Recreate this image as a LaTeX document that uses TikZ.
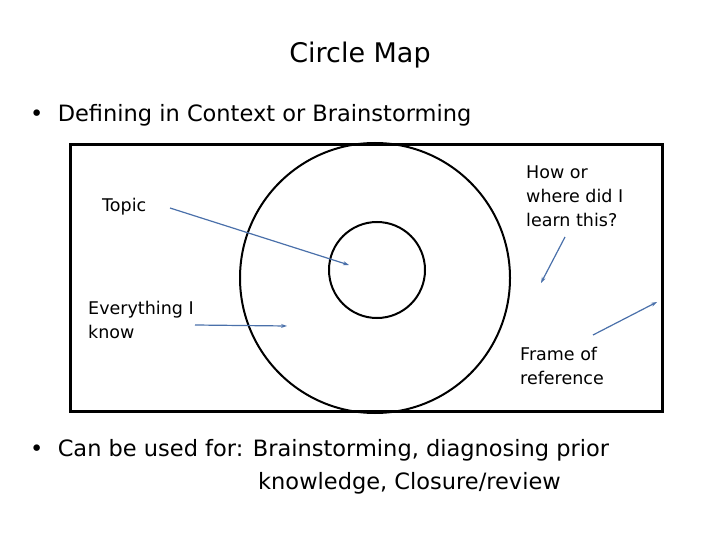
\documentclass[tikz,border=0pt]{standalone}
\usepackage{fontspec}
\setmainfont{DejaVu Sans}
\usetikzlibrary{arrows.meta}
\definecolor{arr}{RGB}{74,112,170}
\begin{document}
\begin{tikzpicture}[x=1pt,y=-1pt,
  lab/.style={anchor=west,font=\fontsize{17.5}{24}\selectfont,align=left,inner sep=0},
  big/.style={anchor=west,font=\fontsize{22.5}{32}\selectfont,inner sep=0},
  ar/.style={draw=arr,line width=1.2pt,-{Stealth[length=6pt,width=4pt]}}]
\useasboundingbox (0,0) rectangle (720,540);
\node[font=\fontsize{27}{30}\selectfont] (title) at (360,55) {Circle Map};
\node[big] (b1) at (30,115) {•\ \ Defining in Context or Brainstorming};
\draw[line width=3pt] (70,145) rectangle (662,411);
\draw[line width=2pt] (375,278) circle (135);
\draw[line width=2pt] (377,270) circle (48);
\node[lab] (topic) at (102,207) {Topic};
\coordinate (t1) at (170,208); \coordinate (t2) at (349,265);
\draw[ar] (t1) -- (t2);
\node[lab] (every) at (88,320) {Everything I\\know};
\coordinate (e1) at (195,325); \coordinate (e2) at (287,326);
\draw[ar] (e1) -- (e2);
\node[lab] (how) at (526,196) {How or\\where did I\\learn this?};
\coordinate (h1) at (565,237); \coordinate (h2) at (541,283);
\draw[ar] (h1) -- (h2);
\coordinate (f1) at (593,335); \coordinate (f2) at (657,302);
\draw[ar] (f1) -- (f2);
\node[lab] (frame) at (520,366) {Frame of\\reference};
\node[big] (b2) at (30,450) {•\ \ Can be used for: Brainstorming, diagnosing prior};
\node[big] (b3) at (258,483) {knowledge, Closure/review};
\end{tikzpicture}
\end{document}
